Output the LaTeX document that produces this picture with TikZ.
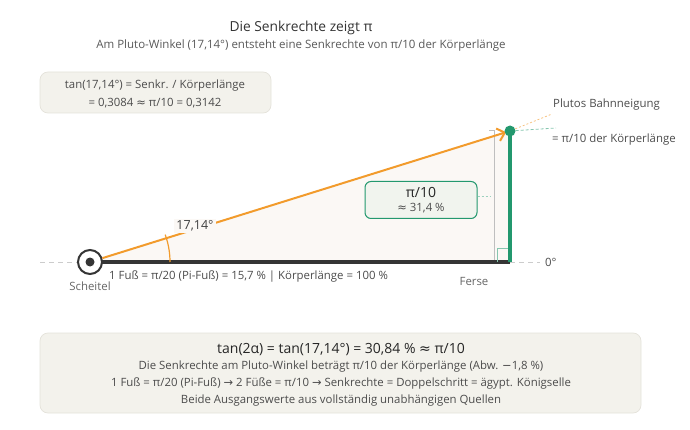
\documentclass[tikz,border=0pt]{standalone}
\usepackage{fontspec}
\setmainfont{Open Sans}
\newfontfamily\symfont{DejaVu Sans}
\usetikzlibrary{positioning,arrows.meta}
\definecolor{plutoorange}{HTML}{F29B2C}
\definecolor{senkgruen}{HTML}{23986E}
\definecolor{basisgrau}{HTML}{353535}
\definecolor{kastenfill}{HTML}{F3F2EC}
\definecolor{kastenrand}{HTML}{E4E2DA}
\definecolor{keilfill}{HTML}{FBF8F5}
\definecolor{pifill}{HTML}{F1F4EE}
\newcommand{\pf}{{\symfont →}}
\newcommand{\ca}{{\symfont ≈}}
\newcommand{\mn}{{\symfont −}}
\tikzset{
  kasten/.style={draw=kastenrand, fill=kastenfill, rounded corners=8pt, line width=0.7pt},
  pikasten/.style={draw=senkgruen, fill=pifill, rounded corners=6pt, line width=1pt, minimum width=112pt, minimum height=37pt, inner sep=0pt},
  beschr/.style={text=black!70, font=\fontsize{11.4}{13}\selectfont, inner sep=1pt},
  hilfslinie/.style={gray!40, line width=1pt, dash pattern=on 5pt off 4pt},
}
\begin{document}
\begin{tikzpicture}[x=1pt,y=-1pt]
\useasboundingbox (0,0) rectangle (690,430);
% titles
\node[beschr, text=black!80, font=\fontsize{13.8}{16}\selectfont] (titel) at (301,28) {Die Senkrechte zeigt π};
\node[beschr, text=black!65, font=\fontsize{11.5}{13}\selectfont] (untertitel) at (301,46) {Am Pluto-Winkel (17,14°) entsteht eine Senkrechte von π/10 der Körperlänge};
% formula box, top left
\draw[kasten] (40,72) rectangle (271,113);
\node[beschr] (formel1) at (155,86) {tan(17,14°) = Senkr. / Körperlänge};
\node[beschr] (formel2) at (155,103) {= 0,3084 \ca{} π/10 = 0,3142};
% edit here for the triangle
\coordinate (scheitelpkt) at (90,262);
\coordinate (ferse) at (510,262);
\coordinate (spitze) at (510,131);
\fill[keilfill] (scheitelpkt) -- (spitze) -- (ferse) -- cycle;
% dashed guides
\coordinate (linksaus) at (40,262);
\coordinate (rechtsaus) at (540,262);
\draw[hilfslinie] (linksaus) -- (scheitelpkt);
\draw[hilfslinie] (ferse) -- (rechtsaus);
\node[beschr, anchor=west] (nullgrad) at (544,262) {0°};
% grey measure line
\draw[gray!50, line width=1pt] (489,131) -- (494,131) -- (494,262) -- (489,262);
% base line
\draw[basisgrau, line width=3.5pt] (scheitelpkt) -- (ferse);
% right angle
\draw[senkgruen!55, line width=1pt] (497,262) -- (497,249) -- (510,249);
% the vertical
\draw[senkgruen, line width=4pt] (ferse) -- (spitze);
% angle arc
\draw[plutoorange, line width=1.2pt] (170,262) arc[start angle=0, end angle=-20, radius=80];
% vertex and orbit line
\node[circle, draw=basisgrau, line width=2pt, fill=white, minimum size=24pt, inner sep=0pt] (scheitel) at (scheitelpkt) {};
\fill[basisgrau] (scheitel.center) circle (4.5);
\draw[plutoorange, line width=2pt, -{Straight Barb[length=7pt,width=13pt]}, shorten >=4pt] (scheitel) -- (spitze);
\node[circle, fill=senkgruen, minimum size=11pt, inner sep=0pt] (pluto) at (spitze) {};
\node[beschr, fill=keilfill, text=black!75, font=\fontsize{12.5}{14}\selectfont, inner sep=2pt] (winkel) at (195,226) {17,14°};
% pi/10 box
\node[pikasten] (pikasten) at (421,200) {};
\node[beschr, text=black!85, font=\fontsize{14}{16}\selectfont] (pitext) at (421,192) {π/10};
\node[beschr] (piwert) at (421,208) {\ca{} 31,4 \%};
\coordinate (pimarke) at (491,197);
\draw[senkgruen!45, line width=1pt, dash pattern=on 2pt off 2pt] (pikasten.east |- pimarke) -- (pimarke);
% labels on the base
\node[beschr, text=black!60] (scheiteltext) at (90,286) {Scheitel};
\node[beschr, anchor=west] (fusstext) at (108,277) {1 Fuß = π/20 (Pi-Fuß) = 15,7 \% | Körperlänge = 100 \%};
\node[beschr, text=black!60] (fersetext) at (474,281) {Ferse};
% labels at pluto
\node[beschr, anchor=west] (bahn) at (552,105) {Plutos Bahnneigung};
\node[beschr, anchor=west] (anteil) at (551,140) {= π/10 der Körperlänge};
\coordinate (bahnende) at (552,114);
\coordinate (anteilende) at (556,128);
\draw[plutoorange!60, line width=0.8pt, dash pattern=on 2pt off 2pt] (pluto) -- (bahnende);
\draw[senkgruen!55, line width=0.8pt, dash pattern=on 3pt off 2pt] (pluto) -- (anteilende);
% summary box
\draw[kasten] (40,333) rectangle (641,413);
\node[beschr, text=black!85, font=\fontsize{14}{16}\selectfont] (zeile1) at (341,350) {tan(2α) = tan(17,14°) = 30,84 \% \ca{} π/10};
\foreach \n/\y/\texto in {2/367/{Die Senkrechte am Pluto-Winkel beträgt π/10 der Körperlänge (Abw. \mn1,8 \%)},3/384/{1 Fuß = π/20 (Pi-Fuß) \pf{} 2 Füße = π/10 \pf{} Senkrechte = Doppelschritt = ägypt. Königselle},4/401/{Beide Ausgangswerte aus vollständig unabhängigen Quellen}}
\node[beschr] (zeile\n) at (341,\y) {\texto};
\end{tikzpicture}
\end{document}
